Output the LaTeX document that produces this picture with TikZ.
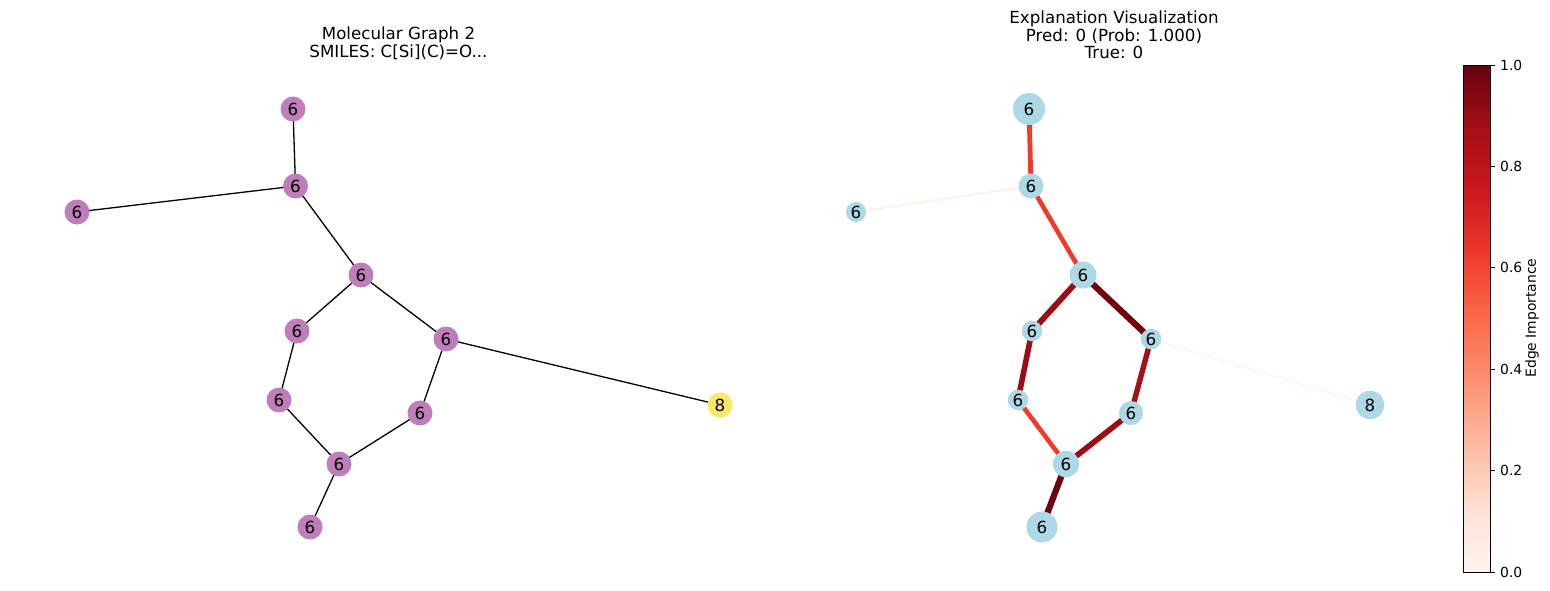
\documentclass[tikz,border=0pt]{standalone}
\usepackage{fontspec}
\setmainfont{DejaVu Sans}
\usetikzlibrary{backgrounds}
\definecolor{nodepurple}{HTML}{BD7EBA}
\definecolor{nodeyellow}{HTML}{FDE767}
\definecolor{nodeblue}{HTML}{ADD8E6}
\definecolor{ra}{HTML}{FFF5F0}
\definecolor{rb}{HTML}{FEE0D2}
\definecolor{rc}{HTML}{FCBBA1}
\definecolor{rd}{HTML}{FC9272}
\definecolor{re}{HTML}{FB6A4A}
\definecolor{rf}{HTML}{EF3B2C}
\definecolor{rg}{HTML}{CB181D}
\definecolor{rh}{HTML}{A50F15}
\definecolor{ri}{HTML}{67000D}
\definecolor{edgefaint}{HTML}{FFF0E9}
\definecolor{edgedeep}{HTML}{9B0C13}
\definecolor{edgedark}{HTML}{6F020E}
\tikzset{
  x=1pt,y=-1pt,
  atom/.style={circle,inner sep=0pt,outer sep=0pt,minimum size=#1,font=\fontsize{16.67}{18}\selectfont,text=black},
  purpleatom/.style={atom=25pt,fill=nodepurple},
  yellowatom/.style={atom=25pt,fill=nodeyellow},
  blueatom/.style={atom=#1,fill=nodeblue},
  plainbond/.style={draw=black,line width=1.3pt},
  impbond/.style n args={2}{draw=#1,line width=#2},
  titletext/.style={align=center,inner sep=0pt,font=\fontsize{16.67}{17.6}\selectfont,text=black},
  ticktext/.style={anchor=west,inner sep=0pt,font=\fontsize{13.9}{16}\selectfont,text=black},
  tickmark/.style={draw=black,line width=1pt},
}
\begin{document}
\begin{tikzpicture}
\useasboundingbox (0,0) rectangle (1550,590);
% left graph
\node[purpleatom] (la) at (293,109) {6};
\node[purpleatom] (lb) at (295.5,186) {6};
\node[purpleatom] (lc) at (77,212) {6};
\node[purpleatom] (ld) at (361,275) {6};
\node[purpleatom] (le) at (297,331) {6};
\node[purpleatom] (lf) at (446,339) {6};
\node[purpleatom] (lg) at (279,400) {6};
\node[purpleatom] (lh) at (420,413) {6};
\node[purpleatom] (li) at (339,464) {6};
\node[purpleatom] (lj) at (310,527) {6};
\node[yellowatom] (lk) at (720,405) {8};
\begin{pgfonlayer}{background}
\foreach \u/\v in {la/lb,lb/lc,lb/ld,ld/le,ld/lf,le/lg,lf/lh,lf/lk,lg/li,lh/li,li/lj}
  \draw[plainbond] (\u.center) -- (\v.center);
\end{pgfonlayer}
% right graph
\node[blueatom=32pt] (ra1) at (1029,109) {6};
\node[blueatom=25pt] (rb1) at (1031,186) {6};
\node[blueatom=20pt] (rc1) at (856,212) {6};
\node[blueatom=27pt] (rd1) at (1083,275) {6};
\node[blueatom=20.5pt] (re1) at (1032,331) {6};
\node[blueatom=20.5pt] (rf1) at (1151,339) {6};
\node[blueatom=20.5pt] (rg1) at (1018,400) {6};
\node[blueatom=24pt] (rh1) at (1131,413) {6};
\node[blueatom=26.5pt] (ri1) at (1066,464) {6};
\node[blueatom=31pt] (rj1) at (1042,527) {6};
\node[blueatom=28.5pt] (rk1) at (1370,405) {8};
\begin{pgfonlayer}{background}
\draw[impbond={rf}{4.8pt}] (ra1.center) -- (rb1.center);
\draw[impbond={edgefaint}{1.8pt}] (rb1.center) -- (rc1.center);
\draw[impbond={rf}{4.6pt}] (rb1.center) -- (rd1.center);
\draw[impbond={edgedeep}{5.8pt}] (rd1.center) -- (re1.center);
\draw[impbond={edgedark}{6.2pt}] (rd1.center) -- (rf1.center);
\draw[impbond={edgedeep}{5.6pt}] (re1.center) -- (rg1.center);
\draw[impbond={rh}{5.4pt}] (rf1.center) -- (rh1.center);
\draw[impbond={ra}{1.4pt}] (rf1.center) -- (rk1.center);
\draw[impbond={rf}{4.6pt}] (rg1.center) -- (ri1.center);
\draw[impbond={edgedeep}{5.6pt}] (rh1.center) -- (ri1.center);
\draw[impbond={edgedark}{6.2pt}] (ri1.center) -- (rj1.center);
\end{pgfonlayer}
% titles
\node[titletext] (tleft) at (398.5,43) {Molecular Graph 2\\SMILES: C[Si](C)=O...};
\node[titletext] (tright) at (1114,35) {Explanation Visualization\\Pred: 0 (Prob: 1.000)\\True: 0};
% colour bar
\foreach \cb/\ct [count=\i from 0] in {ra/rb,rb/rc,rc/rd,rd/re,re/rf,rf/rg,rg/rh,rh/ri}{
  \pgfmathsetmacro{\yb}{572-\i*63.375}
  \pgfmathsetmacro{\yt}{572-(\i+1)*63.375-(\i<7?0.4:0)}
  \shade[bottom color=\cb,top color=\ct] (1463,\yb) rectangle (1490,\yt);
}
\draw[draw=black,line width=1pt] (1463,65) rectangle (1490,572);
\foreach \lab/\yy [count=\k] in {1.0/65,0.8/166.4,0.6/267.8,0.4/369.2,0.2/470.6,0.0/572}{
  \coordinate (ts\k) at (1490,\yy);
  \coordinate (te\k) at (1495,\yy);
  \draw[tickmark] (ts\k) -- (te\k);
  \node[ticktext] (tl\k) at (1500,\yy) {\lab};
}
\node[rotate=90,inner sep=0pt,font=\fontsize{13.9}{16}\selectfont,text=black] (cblabel) at (1532,318) {Edge Importance};
\end{tikzpicture}
\end{document}
